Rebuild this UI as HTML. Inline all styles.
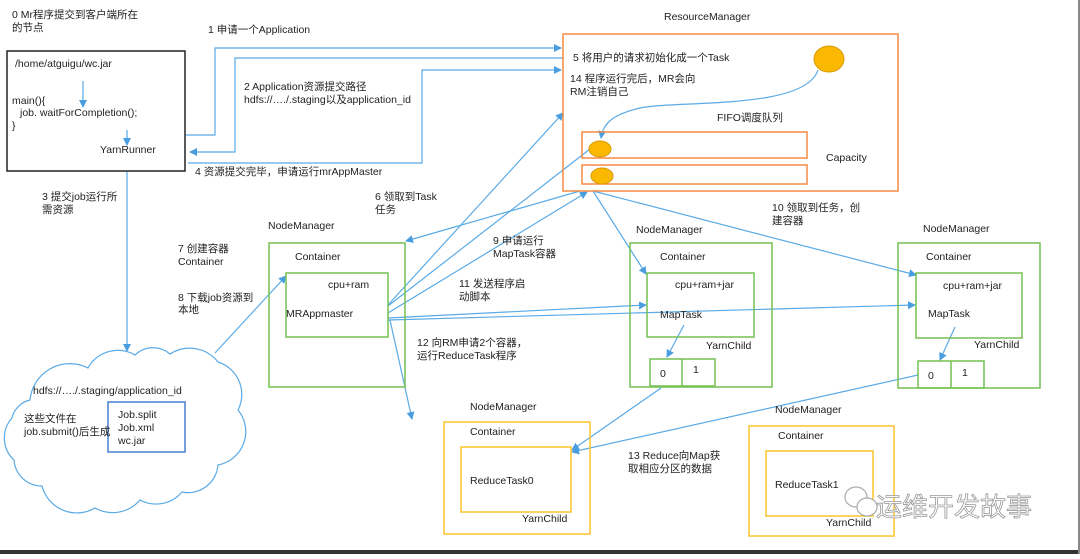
<!DOCTYPE html>
<html><head><meta charset="utf-8"><style>
html,body{margin:0;padding:0;background:#fff;}
svg text{font-family:"Liberation Sans","Noto Sans CJK SC",sans-serif;font-size:10.5px;fill:#222;}
</style></head><body>
<svg width="1080" height="554" viewBox="0 0 1080 554" xmlns="http://www.w3.org/2000/svg">
<defs>
<marker id="a" markerWidth="8" markerHeight="8" refX="7" refY="4" orient="auto" markerUnits="userSpaceOnUse"><path d="M0,0 L8,4 L0,8 z" fill="#4a9ee0"/></marker>
</defs>
<rect width="1080" height="554" fill="#fff"/>
<g fill="none" stroke="#5aaae6" stroke-width="1.2">
<path d="M186,135 H215 V48 H561" marker-end="url(#a)"/>
<path d="M563,58 H235 V152 H190" marker-end="url(#a)"/>
<path d="M188,163 H422 V70 H561" marker-end="url(#a)"/>
<path d="M83,81 V107" marker-end="url(#a)"/>
<path d="M127,130 V145" marker-end="url(#a)"/>
<path d="M127,171 V351" marker-end="url(#a)"/>
<path d="M215,353 L286,276" marker-end="url(#a)"/>
<path d="M818,70 C805,110 680,100 640,108 C610,115 603,125 601,138" marker-end="url(#a)"/>
<path d="M590,149 L388,306"/>
<path d="M388,305 L563,113" marker-end="url(#a)"/>
<path d="M388,313 L587,192" marker-end="url(#a)"/>
<path d="M580,191 L406,241" marker-end="url(#a)"/>
<path d="M388,318 L646,305" marker-end="url(#a)"/>
<path d="M388,320 L915,305" marker-end="url(#a)"/>
<path d="M390,320 L412,419" marker-end="url(#a)"/>
<path d="M593,191 L646,274" marker-end="url(#a)"/>
<path d="M593,191 L916,275" marker-end="url(#a)"/>
<path d="M684,325 L667,357" marker-end="url(#a)"/>
<path d="M955,327 L940,360" marker-end="url(#a)"/>
<path d="M661,388 L572,450" marker-end="url(#a)"/>
<path d="M918,375 L572,452" marker-end="url(#a)"/>
<path d="M30,400 A40,40 0 0 1 88,368 A34,34 0 0 1 135,355 A26,26 0 0 1 170,354 A36,36 0 0 1 218,362 A34,34 0 0 1 238,410 A34,34 0 0 1 218,465 A30,30 0 0 1 182,492 A34,34 0 0 1 140,500 A36,36 0 0 1 95,508 A36,36 0 0 1 42,486 A28,28 0 0 1 14,460 A30,30 0 0 1 12,418 A24,24 0 0 1 30,400 z" fill="#fff"/>
</g>
<rect x="7" y="51" width="178" height="120" fill="none" stroke="#222" stroke-width="1.5"/>
<rect x="108" y="402" width="77" height="50" fill="none" stroke="#4a7fd0" stroke-width="1.5"/>
<rect x="563" y="34" width="335" height="157" fill="none" stroke="#f58a45" stroke-width="1.5"/>
<rect x="582" y="132" width="225" height="26" fill="none" stroke="#f58a45" stroke-width="1.5"/>
<rect x="582" y="165" width="225" height="19" fill="none" stroke="#f58a45" stroke-width="1.5"/>
<ellipse cx="829" cy="59" rx="15" ry="13" fill="#fbb800" stroke="#d79a00"/>
<ellipse cx="600" cy="149" rx="11" ry="8" fill="#fbb800" stroke="#d79a00"/>
<ellipse cx="602" cy="176" rx="11" ry="8" fill="#fbb800" stroke="#d79a00"/>
<g fill="none" stroke="#74c050" stroke-width="1.5">
<rect x="269" y="243" width="136" height="144"/>
<rect x="286" y="273" width="102" height="64"/>
<rect x="630" y="243" width="142" height="144"/>
<rect x="647" y="273" width="107" height="64"/>
<rect x="650" y="359" width="65" height="27"/><path d="M682,359 V386"/>
<rect x="898" y="243" width="142" height="145"/>
<rect x="916" y="273" width="106" height="65"/>
<rect x="918" y="361" width="66" height="27"/><path d="M951,361 V388"/>
</g>
<g fill="none" stroke="#fcc42c" stroke-width="1.5">
<rect x="444" y="422" width="146" height="112"/>
<rect x="461" y="447" width="110" height="65"/>
<rect x="749" y="426" width="145" height="110"/>
<rect x="766" y="451" width="107" height="65"/>
</g>
<text x="12" y="18">0 Mr程序提交到客户端所在</text>
<text x="12" y="31">的节点</text>
<text x="208" y="33">1 申请一个Application</text>
<text x="15" y="67">/home/atguigu/wc.jar</text>
<text x="12" y="104">main(){</text>
<text x="20" y="116">job. waitForCompletion();</text>
<text x="12" y="129">}</text>
<text x="100" y="153">YarnRunner</text>
<text x="244" y="90">2 Application资源提交路径</text>
<text x="244" y="103">hdfs://…./.staging以及application_id</text>
<text x="195" y="175">4 资源提交完毕，申请运行mrAppMaster</text>
<text x="42" y="200">3 提交job运行所</text>
<text x="42" y="213">需资源</text>
<text x="664" y="20">ResourceManager</text>
<text x="573" y="61">5 将用户的请求初始化成一个Task</text>
<text x="570" y="82">14 程序运行完后，MR会向</text>
<text x="570" y="95">RM注销自己</text>
<text x="717" y="121">FIFO调度队列</text>
<text x="826" y="161">Capacity</text>
<text x="375" y="200">6 领取到Task</text>
<text x="375" y="213">任务</text>
<text x="772" y="211">10 领取到任务，创</text>
<text x="772" y="224">建容器</text>
<text x="268" y="229">NodeManager</text>
<text x="636" y="233">NodeManager</text>
<text x="923" y="232">NodeManager</text>
<text x="178" y="252">7 创建容器</text>
<text x="178" y="265">Container</text>
<text x="178" y="301">8 下载job资源到</text>
<text x="178" y="313">本地</text>
<text x="295" y="260">Container</text>
<text x="328" y="288">cpu+ram</text>
<text x="286" y="317">MRAppmaster</text>
<text x="493" y="244">9 申请运行</text>
<text x="493" y="257">MapTask容器</text>
<text x="459" y="287">11 发送程序启</text>
<text x="459" y="300">动脚本</text>
<text x="417" y="346">12 向RM申请2个容器，</text>
<text x="417" y="359">运行ReduceTask程序</text>
<text x="660" y="260">Container</text>
<text x="675" y="288">cpu+ram+jar</text>
<text x="660" y="318">MapTask</text>
<text x="706" y="349">YarnChild</text>
<text x="660" y="377">0</text><text x="693" y="373">1</text>
<text x="926" y="260">Container</text>
<text x="943" y="289">cpu+ram+jar</text>
<text x="928" y="317">MapTask</text>
<text x="974" y="348">YarnChild</text>
<text x="928" y="379">0</text><text x="962" y="376">1</text>
<text x="33" y="394">hdfs://…./.staging/application_id</text>
<text x="24" y="422">这些文件在</text>
<text x="24" y="435">job.submit()后生成</text>
<text x="118" y="418">Job.split</text>
<text x="118" y="431">Job.xml</text>
<text x="118" y="444">wc.jar</text>
<text x="470" y="410">NodeManager</text>
<text x="470" y="435">Container</text>
<text x="470" y="484">ReduceTask0</text>
<text x="522" y="522">YarnChild</text>
<text x="628" y="459">13 Reduce向Map获</text>
<text x="628" y="472">取相应分区的数据</text>
<text x="775" y="413">NodeManager</text>
<text x="778" y="439">Container</text>
<text x="775" y="488">ReduceTask1</text>
<text x="826" y="526">YarnChild</text>
<g fill="none" stroke="#aaa" stroke-width="1.2">
<ellipse cx="856" cy="497" rx="11" ry="10"/>
<ellipse cx="867" cy="507" rx="10" ry="9" fill="#fff"/>
</g>
<text x="876" y="516" style="font-size:26px;fill:#fff;stroke:#999;stroke-width:0.8">运维开发故事</text>
<rect x="0" y="550" width="1080" height="4" fill="#333"/>
<rect x="1078" y="0" width="2" height="554" fill="#888"/>
</svg>
</body></html>
